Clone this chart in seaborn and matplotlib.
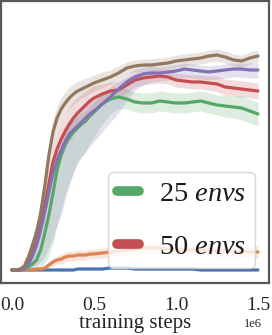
import numpy as np
import matplotlib
matplotlib.use("Agg")
import matplotlib.pyplot as plt
from matplotlib.lines import Line2D
import seaborn as sns

# training steps in thousands (denser where the curves rise)
steps_k = [0, 25, 50, 75, 100, 125, 150, 175, 200, 225, 250, 275, 300, 325, 350, 375, 400, 425, 450, 475, 500,
           550, 600, 650, 700, 750, 800, 850, 900, 950, 1000, 1050, 1100, 1150, 1200, 1250, 1300, 1350, 1400, 1450, 1500]

# mean return per run
blue = [0, 0, 0, 0, 0, 0, 0, 0, 0, 0, 0, 0, 0, 0, 0, 0, 1, 1, 1, 1, 1,
        1, 2, 2, 2, 1, 1, 1, 1, 1, 1, 1, 1, 0, 0, 0, 0, 0, 0, 0, 0]
orange = [0, 0, 0, 0, 0, 0, 1, 1, 2, 5, 8, 10, 11, 13, 14, 14, 15, 15, 15, 16, 16,
          17, 18, 19, 20, 21, 22, 22, 22, 21, 20, 20, 20, 20, 20, 19, 19, 19, 19, 18, 18]
green = [0, 0, 0, 1, 3, 6, 10, 20, 37, 55, 77, 100, 115, 126, 133, 138, 142, 146, 149, 154, 158,
         166, 171, 173, 171, 168, 167, 167, 169, 168, 167, 167, 168, 169, 167, 165, 164, 163, 162, 159, 156]
red = [0, 0, 0, 2, 8, 18, 30, 45, 64, 86, 108, 121, 131, 139, 146, 152, 157, 161, 165, 169, 172,
       176, 179, 180, 185, 190, 192, 193, 194, 193, 190, 189, 188, 188, 187, 186, 183, 182, 181, 180, 179]
purple = [0, 0, 0, 2, 6, 14, 25, 40, 58, 78, 97, 110, 120, 129, 136, 140, 144, 148, 152, 156, 159,
          166, 173, 181, 188, 193, 196, 197, 197, 198, 199, 201, 200, 199, 198, 199, 200, 201, 201, 200, 200]
brown = [0, 0, 1, 4, 13, 25, 38, 57, 84, 115, 138, 152, 161, 167, 172, 176, 179, 181, 183, 185, 187,
         190, 193, 197, 202, 204, 205, 205, 206, 207, 209, 210, 211, 212, 214, 215, 213, 210, 209, 212, 214]

# spread below / above the mean
blue_lo = [1, 1, 1, 1, 1, 1, 1, 1, 1, 1, 1, 1, 1, 1, 1, 1, 1, 1, 1, 1, 1,
           1, 1, 1, 1, 1, 1, 1, 1, 1, 1, 1, 1, 1, 1, 1, 1, 1, 1, 1, 1]
blue_hi = blue_lo
orange_lo = [0, 0, 0, 0, 0, 0, 1, 1, 2, 3, 4, 4, 5, 5, 5, 5, 5, 5, 5, 5, 5,
             5, 5, 5, 5, 5, 5, 5, 5, 5, 5, 5, 5, 5, 5, 6, 6, 6, 6, 6, 6]
orange_hi = orange_lo
green_lo = [0, 0, 0, 1, 3, 5, 8, 18, 30, 42, 50, 55, 55, 50, 45, 40, 35, 32, 30, 27, 25,
            20, 15, 12, 10, 10, 10, 10, 10, 10, 10, 10, 10, 10, 10, 10, 11, 11, 12, 12, 12]
green_hi = [0, 0, 0, 1, 3, 5, 8, 9, 10, 11, 12, 12, 12, 12, 12, 12, 12, 11, 10, 10, 10,
            10, 10, 10, 10, 10, 10, 10, 10, 10, 10, 10, 10, 10, 10, 10, 11, 11, 12, 12, 12]
red_lo = [0, 0, 1, 2, 6, 9, 12, 14, 16, 17, 18, 18, 18, 17, 17, 17, 16, 15, 14, 13, 12,
          10, 9, 8, 8, 7, 7, 7, 7, 7, 7, 7, 7, 7, 7, 8, 8, 8, 8, 8, 8]
red_hi = red_lo
purple_lo = [0, 0, 0, 2, 6, 12, 20, 32, 45, 55, 65, 65, 65, 58, 51, 43, 36, 35, 34, 32, 31,
             28, 25, 24, 18, 13, 11, 9, 8, 8, 8, 8, 8, 8, 8, 8, 8, 8, 8, 8, 8]
purple_hi = [0, 0, 0, 2, 5, 7, 8, 9, 10, 11, 12, 12, 12, 12, 12, 12, 12, 12, 12, 12, 11,
             10, 10, 9, 8, 8, 7, 7, 6, 6, 6, 6, 6, 6, 6, 6, 6, 6, 6, 7, 7]
brown_lo = [0, 0, 1, 3, 6, 8, 10, 11, 12, 12, 12, 12, 12, 11, 11, 10, 10, 9, 9, 8, 8,
            8, 7, 7, 6, 6, 6, 6, 6, 6, 6, 6, 6, 6, 6, 6, 6, 6, 6, 6, 6]
brown_hi = brown_lo

runs = [
    (blue, blue_lo, blue_hi, None),
    (orange, orange_lo, orange_hi, None),
    (green, green_lo, green_hi, "25"),
    (red, red_lo, red_hi, "50"),
    (purple, purple_lo, purple_hi, None),
    (brown, brown_lo, brown_hi, None),
]

sns.set_theme(style="white")
plt.rcParams["font.family"] = ["Liberation Serif", "DejaVu Serif"]
plt.rcParams["mathtext.fontset"] = "custom"
plt.rcParams["mathtext.rm"] = "Liberation Serif"
plt.rcParams["mathtext.it"] = "Liberation Serif:italic"

colors = sns.color_palette("deep")
steps = np.array(steps_k) * 1e3

fig = plt.figure(figsize=(2.72, 3.35), dpi=100)
ax = fig.add_axes([1 / 272, 52 / 335, 268 / 272, 282 / 335])

handles = []
for i, (mean, lo, hi, lab) in enumerate(runs):
    c = colors[i]
    m = np.array(mean, dtype=float)
    lower = np.clip(m - np.array(lo), 0, None)
    upper = m + np.array(hi)
    ax.fill_between(steps, lower, upper, color=c, alpha=0.2, lw=0)
    sns.lineplot(x=steps, y=m, color=c, lw=2.3, ax=ax)
    if lab:
        handles.append(Line2D([0], [0], color=c, lw=7, solid_capstyle="round",
                              label=r"$%s\ envs$" % lab))

ax.set_xlim(-0.067e6, 1.567e6)
ax.set_ylim(-13, 269)
ax.set_yticks([])
ax.set_xticks([0, 0.5e6, 1.0e6, 1.5e6])
ax.tick_params(axis="x", labelsize=14, colors="0.15", pad=4)
ax.xaxis.get_offset_text().set_fontsize(9)
ax.xaxis.get_offset_text().set_x(0.975)
ax.set_xlabel("training steps", fontsize=15, color="0.15", labelpad=0)
ax.set_ylabel("")
for sp in ax.spines.values():
    sp.set_color("0.35")
    sp.set_linewidth(1.6)

leg = ax.legend(handles=handles, loc="lower right", bbox_to_anchor=(0.948, 0.053),
                borderaxespad=0, fontsize=20.5, handlelength=0.8, handletextpad=0.7,
                labelspacing=0.95, borderpad=0.3, frameon=True, fancybox=True,
                framealpha=0.8, edgecolor="0.8")
for t in leg.get_texts():
    t.set_color("0.1")

fig.savefig("out.png", dpi=100)
